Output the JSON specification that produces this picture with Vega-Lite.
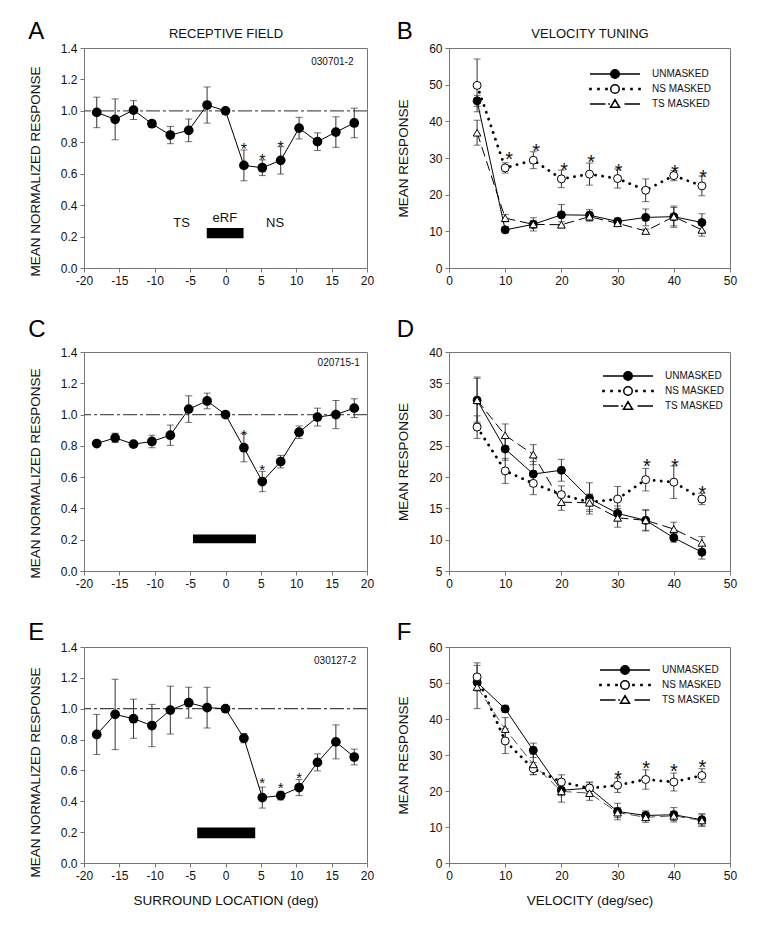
{
  "$schema": "https://vega.github.io/schema/vega-lite/v6.json",
  "padding": {"left": 27, "top": 19, "right": 5, "bottom": 5},
  "background": "white",
  "config": {
    "font": "Liberation Sans",
    "view": {"stroke": "#777", "strokeWidth": 1},
    "axis": {"grid": false, "domainColor": "#777", "tickColor": "#777", "tickSize": 4, "labelFontSize": 12, "labelColor": "#111", "titleFontSize": 13.5, "titleFontWeight": "normal", "titleColor": "#111", "labelPadding": 3, "labelOverlap": false, "labelFlush": false},
    "axisY": {"titlePadding": 18},
    "axisX": {"titlePadding": 12},
    "title": {"fontSize": 24, "fontWeight": "normal", "anchor": "start", "frame": "bounds", "baseline": "alphabetic", "color": "#000"},
    "text": {"color": "#111"},
    "legend": {"title": null, "orient": "none", "labelFontSize": 10, "labelOffset": 31, "symbolSize": 100, "rowPadding": -1, "padding": 0, "labelColor": "#111", "symbolOpacity": 1}
  },
  "resolve": {"scale": {"shape": "independent", "fill": "independent"}, "legend": {"shape": "independent", "fill": "independent"}},
  "datasets": {
    "A": [
      {"x": -18.2, "y": 0.99, "err": 0.097}, {"x": -15.6, "y": 0.946, "err": 0.13}, {"x": -13, "y": 1.005, "err": 0.06},
      {"x": -10.4, "y": 0.918, "err": 0.02}, {"x": -7.8, "y": 0.846, "err": 0.055}, {"x": -5.2, "y": 0.876, "err": 0.072},
      {"x": -2.6, "y": 1.037, "err": 0.115}, {"x": 0, "y": 1.0, "err": 0}, {"x": 2.6, "y": 0.653, "err": 0.098},
      {"x": 5.2, "y": 0.638, "err": 0.05}, {"x": 7.8, "y": 0.685, "err": 0.087}, {"x": 10.4, "y": 0.89, "err": 0.069},
      {"x": 13, "y": 0.804, "err": 0.056}, {"x": 15.6, "y": 0.865, "err": 0.097}, {"x": 18.2, "y": 0.923, "err": 0.094}
    ],
    "A_star": [{"x": 2.6, "y": 0.81}, {"x": 5.2, "y": 0.74}, {"x": 7.8, "y": 0.82}],
    "A_note": [{"x": -6.2, "y": 0.286, "label": "TS"}, {"x": -0.1, "y": 0.318, "label": "eRF"}, {"x": 7.0, "y": 0.286, "label": "NS"}],
    "A_id": [{"x": 15.1, "y": 1.311, "label": "030701-2"}],
    "A_bar": [{"x1": -2.65, "x2": 2.55, "y1": 0.19, "y2": 0.255}],
    "C": [
      {"x": -18.2, "y": 0.815, "err": 0.01}, {"x": -15.6, "y": 0.851, "err": 0.03}, {"x": -13, "y": 0.811, "err": 0.01},
      {"x": -10.4, "y": 0.828, "err": 0.04}, {"x": -7.8, "y": 0.868, "err": 0.065}, {"x": -5.2, "y": 1.035, "err": 0.085},
      {"x": -2.6, "y": 1.087, "err": 0.05}, {"x": 0, "y": 1.0, "err": 0}, {"x": 2.6, "y": 0.788, "err": 0.09},
      {"x": 5.2, "y": 0.572, "err": 0.065}, {"x": 7.8, "y": 0.699, "err": 0.04}, {"x": 10.4, "y": 0.887, "err": 0.04},
      {"x": 13, "y": 0.984, "err": 0.057}, {"x": 15.6, "y": 1.0, "err": 0.09}, {"x": 18.2, "y": 1.041, "err": 0.06}
    ],
    "C_star": [{"x": 2.6, "y": 0.925}, {"x": 5.2, "y": 0.703}],
    "C_id": [{"x": 16.0, "y": 1.332, "label": "020715-1"}],
    "C_bar": [{"x1": -4.6, "x2": 4.3, "y1": 0.177, "y2": 0.234}],
    "E": [
      {"x": -18.2, "y": 0.833, "err": 0.13}, {"x": -15.6, "y": 0.963, "err": 0.228}, {"x": -13, "y": 0.935, "err": 0.127},
      {"x": -10.4, "y": 0.891, "err": 0.137}, {"x": -7.8, "y": 0.991, "err": 0.155}, {"x": -5.2, "y": 1.039, "err": 0.1},
      {"x": -2.6, "y": 1.007, "err": 0.132}, {"x": 0, "y": 1.0, "err": 0}, {"x": 2.6, "y": 0.809, "err": 0.03},
      {"x": 5.2, "y": 0.424, "err": 0.068}, {"x": 7.8, "y": 0.437, "err": 0.028}, {"x": 10.4, "y": 0.489, "err": 0.052},
      {"x": 13, "y": 0.652, "err": 0.055}, {"x": 15.6, "y": 0.785, "err": 0.11}, {"x": 18.2, "y": 0.687, "err": 0.051}
    ],
    "E_star": [{"x": 5.2, "y": 0.576}, {"x": 7.8, "y": 0.543}, {"x": 10.4, "y": 0.609}],
    "E_id": [{"x": 15.5, "y": 1.307, "label": "030127-2"}],
    "E_bar": [{"x1": -4.0, "x2": 4.2, "y1": 0.16, "y2": 0.23}],
    "B": [
      {"series": "UNMASKED", "x": 5, "y": 45.6, "err": 1.5}, {"series": "UNMASKED", "x": 10, "y": 10.4, "err": 0.8},
      {"series": "UNMASKED", "x": 15, "y": 11.9, "err": 1.8}, {"series": "UNMASKED", "x": 20, "y": 14.5, "err": 2.8},
      {"series": "UNMASKED", "x": 25, "y": 14.4, "err": 1.5}, {"series": "UNMASKED", "x": 30, "y": 12.7, "err": 0.9},
      {"series": "UNMASKED", "x": 35, "y": 13.8, "err": 2.3}, {"series": "UNMASKED", "x": 40, "y": 14.0, "err": 2.9},
      {"series": "UNMASKED", "x": 45, "y": 12.4, "err": 2.4},
      {"series": "NS MASKED", "x": 5, "y": 49.8, "err": 7.2}, {"series": "NS MASKED", "x": 10, "y": 27.3, "err": 1.4},
      {"series": "NS MASKED", "x": 15, "y": 29.4, "err": 2.3}, {"series": "NS MASKED", "x": 20, "y": 24.3, "err": 2.4},
      {"series": "NS MASKED", "x": 25, "y": 25.6, "err": 3.0}, {"series": "NS MASKED", "x": 30, "y": 24.4, "err": 2.6},
      {"series": "NS MASKED", "x": 35, "y": 21.2, "err": 3.1}, {"series": "NS MASKED", "x": 40, "y": 25.2, "err": 1.4},
      {"series": "NS MASKED", "x": 45, "y": 22.4, "err": 2.7},
      {"series": "TS MASKED", "x": 5, "y": 36.9, "err": 3.4}, {"series": "TS MASKED", "x": 10, "y": 13.6, "err": 1.0},
      {"series": "TS MASKED", "x": 15, "y": 11.9, "err": 1.0}, {"series": "TS MASKED", "x": 20, "y": 11.8, "err": 0.8},
      {"series": "TS MASKED", "x": 25, "y": 14.0, "err": 1.2}, {"series": "TS MASKED", "x": 30, "y": 12.2, "err": 0.6},
      {"series": "TS MASKED", "x": 35, "y": 10.1, "err": 0.5}, {"series": "TS MASKED", "x": 40, "y": 14.0, "err": 2.5},
      {"series": "TS MASKED", "x": 45, "y": 10.4, "err": 1.7}
    ],
    "B_star": [{"x": 10.7, "y": 32.4}, {"x": 15.5, "y": 34.6}, {"x": 20.5, "y": 29.4}, {"x": 25.3, "y": 31.7}, {"x": 30.2, "y": 29.1}, {"x": 40.2, "y": 28.8}, {"x": 45.2, "y": 27.6}],
    "D": [
      {"series": "UNMASKED", "x": 5, "y": 32.3, "err": 3.7}, {"series": "UNMASKED", "x": 10, "y": 24.5, "err": 1.8},
      {"series": "UNMASKED", "x": 15, "y": 20.5, "err": 2.0}, {"series": "UNMASKED", "x": 20, "y": 21.1, "err": 1.75},
      {"series": "UNMASKED", "x": 25, "y": 16.6, "err": 2.5}, {"series": "UNMASKED", "x": 30, "y": 14.2, "err": 1.2},
      {"series": "UNMASKED", "x": 35, "y": 13.1, "err": 1.6}, {"series": "UNMASKED", "x": 40, "y": 10.3, "err": 0.7},
      {"series": "UNMASKED", "x": 45, "y": 8.0, "err": 1.1},
      {"series": "NS MASKED", "x": 5, "y": 28.0, "err": 1.8}, {"series": "NS MASKED", "x": 10, "y": 21.0, "err": 2.0},
      {"series": "NS MASKED", "x": 15, "y": 19.0, "err": 1.8}, {"series": "NS MASKED", "x": 20, "y": 17.2, "err": 1.4},
      {"series": "NS MASKED", "x": 25, "y": 16.0, "err": 1.2}, {"series": "NS MASKED", "x": 30, "y": 16.5, "err": 2.0},
      {"series": "NS MASKED", "x": 35, "y": 19.6, "err": 1.8}, {"series": "NS MASKED", "x": 40, "y": 19.2, "err": 2.6},
      {"series": "NS MASKED", "x": 45, "y": 16.5, "err": 0.9},
      {"series": "TS MASKED", "x": 5, "y": 32.3, "err": 3.5}, {"series": "TS MASKED", "x": 10, "y": 26.7, "err": 1.8},
      {"series": "TS MASKED", "x": 15, "y": 23.6, "err": 1.6}, {"series": "TS MASKED", "x": 20, "y": 16.0, "err": 1.3},
      {"series": "TS MASKED", "x": 25, "y": 15.9, "err": 1.4}, {"series": "TS MASKED", "x": 30, "y": 13.5, "err": 1.5},
      {"series": "TS MASKED", "x": 35, "y": 13.1, "err": 1.7}, {"series": "TS MASKED", "x": 40, "y": 11.7, "err": 1.1},
      {"series": "TS MASKED", "x": 45, "y": 9.5, "err": 1.0}
    ],
    "D_star": [{"x": 35.2, "y": 23.3}, {"x": 40.2, "y": 23.4}, {"x": 45.1, "y": 19.0}],
    "F": [
      {"series": "UNMASKED", "x": 5, "y": 50.2, "err": 2.0}, {"series": "UNMASKED", "x": 10, "y": 42.8, "err": 1.0},
      {"series": "UNMASKED", "x": 15, "y": 31.3, "err": 2.0}, {"series": "UNMASKED", "x": 20, "y": 20.2, "err": 1.5},
      {"series": "UNMASKED", "x": 25, "y": 20.8, "err": 1.5}, {"series": "UNMASKED", "x": 30, "y": 14.3, "err": 2.3},
      {"series": "UNMASKED", "x": 35, "y": 13.2, "err": 1.3}, {"series": "UNMASKED", "x": 40, "y": 13.4, "err": 2.0},
      {"series": "UNMASKED", "x": 45, "y": 12.0, "err": 1.7},
      {"series": "NS MASKED", "x": 5, "y": 51.7, "err": 3.9}, {"series": "NS MASKED", "x": 10, "y": 33.9, "err": 3.5},
      {"series": "NS MASKED", "x": 15, "y": 26.2, "err": 1.7}, {"series": "NS MASKED", "x": 20, "y": 22.5, "err": 2.0},
      {"series": "NS MASKED", "x": 25, "y": 20.8, "err": 1.7}, {"series": "NS MASKED", "x": 30, "y": 21.6, "err": 2.0},
      {"series": "NS MASKED", "x": 35, "y": 23.2, "err": 2.7}, {"series": "NS MASKED", "x": 40, "y": 22.5, "err": 2.5},
      {"series": "NS MASKED", "x": 45, "y": 24.3, "err": 1.9},
      {"series": "TS MASKED", "x": 5, "y": 48.9, "err": 6.0}, {"series": "TS MASKED", "x": 10, "y": 37.2, "err": 3.2},
      {"series": "TS MASKED", "x": 15, "y": 27.4, "err": 2.8}, {"series": "TS MASKED", "x": 20, "y": 19.9, "err": 3.0},
      {"series": "TS MASKED", "x": 25, "y": 19.4, "err": 2.0}, {"series": "TS MASKED", "x": 30, "y": 14.0, "err": 1.4},
      {"series": "TS MASKED", "x": 35, "y": 12.7, "err": 1.4}, {"series": "TS MASKED", "x": 40, "y": 13.1, "err": 1.3},
      {"series": "TS MASKED", "x": 45, "y": 11.8, "err": 1.6}
    ],
    "F_star": [{"x": 30.1, "y": 26.4}, {"x": 35.1, "y": 29.3}, {"x": 40.0, "y": 28.3}, {"x": 45.1, "y": 29.4}]
  },
  "columns": 2,
  "spacing": {"row": 30, "column": 21},
  "concat": [
    {
      "width": 283, "height": 220,
      "title": {"text": "A", "offset": -17},
      "resolve": {"axis": {"x": "independent"}},
      "layer": [
        {
          "layer": [
            {"data": {"values": [{}]}, "mark": {"type": "rule", "color": "#555", "strokeWidth": 1.2, "strokeDash": [14, 3, 3, 3]},
             "encoding": {"y": {"datum": 1, "type": "quantitative", "scale": {"domain": [0, 1.4]}, "title": "MEAN NORMALIZED RESPONSE", "axis": {"values": [0, 0.2, 0.4, 0.6, 0.8, 1.0, 1.2, 1.4], "labelOverlap": false, "format": ".1f", "titleY": 123}}}},
            {"data": {"name": "A_bar"}, "mark": {"type": "rect", "color": "black"},
             "encoding": {"x": {"field": "x1", "type": "quantitative", "scale": {"domain": [-20, 20]}, "title": null, "axis": {"values": [-20, -15, -10, -5, 0, 5, 10, 15, 20], "labelOverlap": false, "labelExpr": "datum.value < 0 ? '-' + abs(datum.value) : '' + datum.value"}}, "x2": {"field": "x2"},
                          "y": {"field": "y1", "type": "quantitative", "scale": {"domain": [0, 1.4]}, "title": "MEAN NORMALIZED RESPONSE", "axis": {"values": [0, 0.2, 0.4, 0.6, 0.8, 1.0, 1.2, 1.4], "labelOverlap": false, "format": ".1f", "titleY": 123}}, "y2": {"field": "y2"}}},
            {"data": {"name": "A_note"}, "mark": {"type": "text", "fontSize": 13, "baseline": "middle", "align": "center"},
             "encoding": {"x": {"field": "x", "type": "quantitative", "scale": {"domain": [-20, 20]}, "title": null, "axis": {"values": [-20, -15, -10, -5, 0, 5, 10, 15, 20], "labelOverlap": false, "labelExpr": "datum.value < 0 ? '-' + abs(datum.value) : '' + datum.value"}},
                          "y": {"field": "y", "type": "quantitative", "scale": {"domain": [0, 1.4]}, "title": "MEAN NORMALIZED RESPONSE", "axis": {"values": [0, 0.2, 0.4, 0.6, 0.8, 1.0, 1.2, 1.4], "labelOverlap": false, "format": ".1f", "titleY": 123}},
                          "text": {"field": "label"}}},
            {"data": {"name": "A"}, "mark": {"type": "errorbar", "ticks": {"size": 7}, "color": "#333", "thickness": 1},
             "encoding": {"x": {"field": "x", "type": "quantitative", "scale": {"domain": [-20, 20]}, "title": null, "axis": {"values": [-20, -15, -10, -5, 0, 5, 10, 15, 20], "labelOverlap": false, "labelExpr": "datum.value < 0 ? '-' + abs(datum.value) : '' + datum.value"}},
                          "y": {"field": "y", "type": "quantitative", "scale": {"domain": [0, 1.4]}, "title": "MEAN NORMALIZED RESPONSE", "axis": {"values": [0, 0.2, 0.4, 0.6, 0.8, 1.0, 1.2, 1.4], "labelOverlap": false, "format": ".1f", "titleY": 123}},
                          "yError": {"field": "err"}}},
            {"data": {"name": "A"}, "mark": {"type": "line", "color": "black", "strokeWidth": 1},
             "encoding": {"x": {"field": "x", "type": "quantitative", "scale": {"domain": [-20, 20]}, "title": null, "axis": {"values": [-20, -15, -10, -5, 0, 5, 10, 15, 20], "labelOverlap": false, "labelExpr": "datum.value < 0 ? '-' + abs(datum.value) : '' + datum.value"}},
                          "y": {"field": "y", "type": "quantitative", "scale": {"domain": [0, 1.4]}, "title": "MEAN NORMALIZED RESPONSE", "axis": {"values": [0, 0.2, 0.4, 0.6, 0.8, 1.0, 1.2, 1.4], "labelOverlap": false, "format": ".1f", "titleY": 123}}}},
            {"data": {"name": "A"}, "mark": {"type": "point", "shape": "circle", "filled": true, "color": "black", "size": 95, "opacity": 1},
             "encoding": {"x": {"field": "x", "type": "quantitative", "scale": {"domain": [-20, 20]}, "title": null, "axis": {"values": [-20, -15, -10, -5, 0, 5, 10, 15, 20], "labelOverlap": false, "labelExpr": "datum.value < 0 ? '-' + abs(datum.value) : '' + datum.value"}},
                          "y": {"field": "y", "type": "quantitative", "scale": {"domain": [0, 1.4]}, "title": "MEAN NORMALIZED RESPONSE", "axis": {"values": [0, 0.2, 0.4, 0.6, 0.8, 1.0, 1.2, 1.4], "labelOverlap": false, "format": ".1f", "titleY": 123}}}},
            {"data": {"name": "A_star"}, "mark": {"type": "text", "text": "*", "fontSize": 16, "dy": 9},
             "encoding": {"x": {"field": "x", "type": "quantitative", "scale": {"domain": [-20, 20]}, "title": null, "axis": {"values": [-20, -15, -10, -5, 0, 5, 10, 15, 20], "labelOverlap": false, "labelExpr": "datum.value < 0 ? '-' + abs(datum.value) : '' + datum.value"}},
                          "y": {"field": "y", "type": "quantitative", "scale": {"domain": [0, 1.4]}, "title": "MEAN NORMALIZED RESPONSE", "axis": {"values": [0, 0.2, 0.4, 0.6, 0.8, 1.0, 1.2, 1.4], "labelOverlap": false, "format": ".1f", "titleY": 123}}}}
          ]
        },
        {"data": {"name": "A_id"}, "mark": {"type": "text", "fontSize": 10, "baseline": "middle", "align": "center"},
         "encoding": {"x": {"field": "x", "type": "quantitative", "scale": {"domain": [-20, 20]}, "title": "RECEPTIVE FIELD",
                            "axis": {"orient": "top", "labels": false, "ticks": false, "domain": false, "titlePadding": 8, "titleFontSize": 13}},
                      "y": {"field": "y", "type": "quantitative", "scale": {"domain": [0, 1.4]}, "title": "MEAN NORMALIZED RESPONSE", "axis": {"values": [0, 0.2, 0.4, 0.6, 0.8, 1.0, 1.2, 1.4], "labelOverlap": false, "format": ".1f", "titleY": 123}},
                      "text": {"field": "label"}}}
      ]
    },
    {
      "width": 281, "height": 220,
      "title": {"text": "B", "offset": -17},
      "resolve": {"axis": {"x": "independent"}},
      "layer": [
        {
          "data": {"name": "B"},
          "layer": [
            {"mark": {"type": "errorbar", "ticks": {"size": 7}, "color": "#333", "thickness": 1},
             "encoding": {"x": {"field": "x", "type": "quantitative", "scale": {"domain": [0, 50]}, "title": null, "axis": {"values": [0, 10, 20, 30, 40, 50], "labelOverlap": false}},
                          "y": {"field": "y", "type": "quantitative", "scale": {"domain": [0, 60]}, "title": "MEAN RESPONSE", "axis": {"values": [0, 10, 20, 30, 40, 50, 60], "labelOverlap": false}},
                          "yError": {"field": "err"}}},
            {"transform": [{"filter": "datum.series == 'UNMASKED'"}], "mark": {"type": "line", "color": "black", "strokeWidth": 1},
             "encoding": {"x": {"field": "x", "type": "quantitative", "scale": {"domain": [0, 50]}, "title": null, "axis": {"values": [0, 10, 20, 30, 40, 50], "labelOverlap": false}},
                          "y": {"field": "y", "type": "quantitative", "scale": {"domain": [0, 60]}, "title": "MEAN RESPONSE", "axis": {"values": [0, 10, 20, 30, 40, 50, 60], "labelOverlap": false}}}},
            {"transform": [{"filter": "datum.series == 'NS MASKED'"}], "mark": {"type": "line", "color": "black", "strokeWidth": 2.8, "strokeDash": [0.1, 7], "strokeCap": "round"},
             "encoding": {"x": {"field": "x", "type": "quantitative", "scale": {"domain": [0, 50]}, "title": null, "axis": {"values": [0, 10, 20, 30, 40, 50], "labelOverlap": false}},
                          "y": {"field": "y", "type": "quantitative", "scale": {"domain": [0, 60]}, "title": "MEAN RESPONSE", "axis": {"values": [0, 10, 20, 30, 40, 50, 60], "labelOverlap": false}}}},
            {"transform": [{"filter": "datum.series == 'TS MASKED'"}], "mark": {"type": "line", "color": "black", "strokeWidth": 1, "strokeDash": [10, 5]},
             "encoding": {"x": {"field": "x", "type": "quantitative", "scale": {"domain": [0, 50]}, "title": null, "axis": {"values": [0, 10, 20, 30, 40, 50], "labelOverlap": false}},
                          "y": {"field": "y", "type": "quantitative", "scale": {"domain": [0, 60]}, "title": "MEAN RESPONSE", "axis": {"values": [0, 10, 20, 30, 40, 50, 60], "labelOverlap": false}}}},
            {"mark": {"type": "point", "filled": true, "opacity": 0, "stroke": "black"},
             "encoding": {"x": {"field": "x", "type": "quantitative", "scale": {"domain": [0, 50]}, "title": null, "axis": {"values": [0, 10, 20, 30, 40, 50], "labelOverlap": false}},
                          "y": {"field": "y", "type": "quantitative", "scale": {"domain": [0, 60]}, "title": "MEAN RESPONSE", "axis": {"values": [0, 10, 20, 30, 40, 50, 60], "labelOverlap": false}},
                          "shape": {"field": "series", "type": "nominal",
                                    "scale": {"domain": ["UNMASKED", "NS MASKED", "TS MASKED"],
                                              "range": ["M-5,0L5,0M0.85,0A0.85,0.85,0,1,1,-0.85,0A0.85,0.85,0,1,1,0.85,0Z",
                                                        "M0.85,0A0.85,0.85,0,1,1,-0.85,0A0.85,0.85,0,1,1,0.85,0ZM1.58,-0.12H1.82V0.12H1.58ZM3.18,-0.12H3.42V0.12H3.18ZM4.78,-0.12H5.02V0.12H4.78ZM-1.82,-0.12H-1.58V0.12H-1.82ZM-3.42,-0.12H-3.18V0.12H-3.42ZM-5.02,-0.12H-4.78V0.12H-5.02Z",
                                                        "M-5,0L-1.9,0M-1.35,0L-1.0,0M0,-0.85L0.9,0.65L-0.9,0.65ZM1.9,0L5,0"]},
                                    "legend": {"legendX": 160, "legendY": 20, "encode": {"symbols": {"update": {"stroke": {"value": "black"}, "strokeWidth": {"value": 1}, "opacity": {"value": 1}}}}}},
                          "fill": {"field": "series", "type": "nominal",
                                   "scale": {"domain": ["UNMASKED", "NS MASKED", "TS MASKED"], "range": ["black", "white", "white"]},
                                   "legend": {"legendX": 160, "legendY": 20, "encode": {"symbols": {"update": {"stroke": {"value": "black"}, "strokeWidth": {"value": 1}, "opacity": {"value": 1}}}}}}}},
            {"transform": [{"filter": "datum.series != 'TS MASKED'"}],
             "mark": {"type": "point", "shape": "circle", "filled": true, "size": 64, "stroke": "black", "strokeWidth": 1, "opacity": 1},
             "encoding": {"x": {"field": "x", "type": "quantitative", "scale": {"domain": [0, 50]}, "title": null, "axis": {"values": [0, 10, 20, 30, 40, 50], "labelOverlap": false}},
                          "y": {"field": "y", "type": "quantitative", "scale": {"domain": [0, 60]}, "title": "MEAN RESPONSE", "axis": {"values": [0, 10, 20, 30, 40, 50, 60], "labelOverlap": false}},
                          "fill": {"field": "series", "type": "nominal",
                                   "scale": {"domain": ["UNMASKED", "NS MASKED", "TS MASKED"], "range": ["black", "white", "white"]}, "legend": null}}},
            {"transform": [{"filter": "datum.series == 'TS MASKED'"}],
             "mark": {"type": "point", "shape": "triangle-up", "filled": true, "fill": "white", "size": 60, "stroke": "black", "strokeWidth": 1, "opacity": 1},
             "encoding": {"x": {"field": "x", "type": "quantitative", "scale": {"domain": [0, 50]}, "title": null, "axis": {"values": [0, 10, 20, 30, 40, 50], "labelOverlap": false}},
                          "y": {"field": "y", "type": "quantitative", "scale": {"domain": [0, 60]}, "title": "MEAN RESPONSE", "axis": {"values": [0, 10, 20, 30, 40, 50, 60], "labelOverlap": false}}}}
          ]
        },
        {"data": {"name": "B_star"}, "mark": {"type": "text", "text": "*", "fontSize": 20, "dy": 11},
         "encoding": {"x": {"field": "x", "type": "quantitative", "scale": {"domain": [0, 50]}, "title": "VELOCITY TUNING",
                            "axis": {"orient": "top", "labels": false, "ticks": false, "domain": false, "titlePadding": 8, "titleFontSize": 13}},
                      "y": {"field": "y", "type": "quantitative", "scale": {"domain": [0, 60]}, "title": "MEAN RESPONSE", "axis": {"values": [0, 10, 20, 30, 40, 50, 60], "labelOverlap": false}}}}
      ]
    },
    {
      "width": 283, "height": 219,
      "title": {"text": "C", "offset": 4},
      "layer": [
        {"data": {"values": [{}]}, "mark": {"type": "rule", "color": "#555", "strokeWidth": 1.2, "strokeDash": [14, 3, 3, 3]},
         "encoding": {"y": {"datum": 1, "type": "quantitative", "scale": {"domain": [0, 1.4]}, "title": "MEAN NORMALIZED RESPONSE", "axis": {"values": [0, 0.2, 0.4, 0.6, 0.8, 1.0, 1.2, 1.4], "labelOverlap": false, "format": ".1f", "titleY": 121}}}},
        {"data": {"name": "C_bar"}, "mark": {"type": "rect", "color": "black"},
         "encoding": {"x": {"field": "x1", "type": "quantitative", "scale": {"domain": [-20, 20]}, "title": null, "axis": {"values": [-20, -15, -10, -5, 0, 5, 10, 15, 20], "labelOverlap": false, "labelExpr": "datum.value < 0 ? '-' + abs(datum.value) : '' + datum.value"}}, "x2": {"field": "x2"},
                      "y": {"field": "y1", "type": "quantitative", "scale": {"domain": [0, 1.4]}, "title": "MEAN NORMALIZED RESPONSE", "axis": {"values": [0, 0.2, 0.4, 0.6, 0.8, 1.0, 1.2, 1.4], "labelOverlap": false, "format": ".1f", "titleY": 121}}, "y2": {"field": "y2"}}},
        {"data": {"name": "C_id"}, "mark": {"type": "text", "fontSize": 10, "baseline": "middle", "align": "center"},
         "encoding": {"x": {"field": "x", "type": "quantitative", "scale": {"domain": [-20, 20]}, "title": null, "axis": {"values": [-20, -15, -10, -5, 0, 5, 10, 15, 20], "labelOverlap": false, "labelExpr": "datum.value < 0 ? '-' + abs(datum.value) : '' + datum.value"}},
                      "y": {"field": "y", "type": "quantitative", "scale": {"domain": [0, 1.4]}, "title": "MEAN NORMALIZED RESPONSE", "axis": {"values": [0, 0.2, 0.4, 0.6, 0.8, 1.0, 1.2, 1.4], "labelOverlap": false, "format": ".1f", "titleY": 121}},
                      "text": {"field": "label"}}},
        {"data": {"name": "C"}, "mark": {"type": "errorbar", "ticks": {"size": 7}, "color": "#333", "thickness": 1},
         "encoding": {"x": {"field": "x", "type": "quantitative", "scale": {"domain": [-20, 20]}, "title": null, "axis": {"values": [-20, -15, -10, -5, 0, 5, 10, 15, 20], "labelOverlap": false, "labelExpr": "datum.value < 0 ? '-' + abs(datum.value) : '' + datum.value"}},
                      "y": {"field": "y", "type": "quantitative", "scale": {"domain": [0, 1.4]}, "title": "MEAN NORMALIZED RESPONSE", "axis": {"values": [0, 0.2, 0.4, 0.6, 0.8, 1.0, 1.2, 1.4], "labelOverlap": false, "format": ".1f", "titleY": 121}},
                      "yError": {"field": "err"}}},
        {"data": {"name": "C"}, "mark": {"type": "line", "color": "black", "strokeWidth": 1},
         "encoding": {"x": {"field": "x", "type": "quantitative", "scale": {"domain": [-20, 20]}, "title": null, "axis": {"values": [-20, -15, -10, -5, 0, 5, 10, 15, 20], "labelOverlap": false, "labelExpr": "datum.value < 0 ? '-' + abs(datum.value) : '' + datum.value"}},
                      "y": {"field": "y", "type": "quantitative", "scale": {"domain": [0, 1.4]}, "title": "MEAN NORMALIZED RESPONSE", "axis": {"values": [0, 0.2, 0.4, 0.6, 0.8, 1.0, 1.2, 1.4], "labelOverlap": false, "format": ".1f", "titleY": 121}}}},
        {"data": {"name": "C"}, "mark": {"type": "point", "shape": "circle", "filled": true, "color": "black", "size": 95, "opacity": 1},
         "encoding": {"x": {"field": "x", "type": "quantitative", "scale": {"domain": [-20, 20]}, "title": null, "axis": {"values": [-20, -15, -10, -5, 0, 5, 10, 15, 20], "labelOverlap": false, "labelExpr": "datum.value < 0 ? '-' + abs(datum.value) : '' + datum.value"}},
                      "y": {"field": "y", "type": "quantitative", "scale": {"domain": [0, 1.4]}, "title": "MEAN NORMALIZED RESPONSE", "axis": {"values": [0, 0.2, 0.4, 0.6, 0.8, 1.0, 1.2, 1.4], "labelOverlap": false, "format": ".1f", "titleY": 121}}}},
        {"data": {"name": "C_star"}, "mark": {"type": "text", "text": "*", "fontSize": 15, "dy": 9},
         "encoding": {"x": {"field": "x", "type": "quantitative", "scale": {"domain": [-20, 20]}, "title": null, "axis": {"values": [-20, -15, -10, -5, 0, 5, 10, 15, 20], "labelOverlap": false, "labelExpr": "datum.value < 0 ? '-' + abs(datum.value) : '' + datum.value"}},
                      "y": {"field": "y", "type": "quantitative", "scale": {"domain": [0, 1.4]}, "title": "MEAN NORMALIZED RESPONSE", "axis": {"values": [0, 0.2, 0.4, 0.6, 0.8, 1.0, 1.2, 1.4], "labelOverlap": false, "format": ".1f", "titleY": 121}}}}
      ]
    },
    {
      "width": 281, "height": 219,
      "title": {"text": "D", "offset": 4},
      "data": {"name": "D"},
      "layer": [
        {"mark": {"type": "errorbar", "ticks": {"size": 7}, "color": "#333", "thickness": 1},
         "encoding": {"x": {"field": "x", "type": "quantitative", "scale": {"domain": [0, 50]}, "title": null, "axis": {"values": [0, 10, 20, 30, 40, 50], "labelOverlap": false}},
                      "y": {"field": "y", "type": "quantitative", "scale": {"domain": [5, 40]}, "title": "MEAN RESPONSE", "axis": {"values": [5, 10, 15, 20, 25, 30, 35, 40], "labelOverlap": false}},
                      "yError": {"field": "err"}}},
        {"transform": [{"filter": "datum.series == 'UNMASKED'"}], "mark": {"type": "line", "color": "black", "strokeWidth": 1},
         "encoding": {"x": {"field": "x", "type": "quantitative", "scale": {"domain": [0, 50]}, "title": null, "axis": {"values": [0, 10, 20, 30, 40, 50], "labelOverlap": false}},
                      "y": {"field": "y", "type": "quantitative", "scale": {"domain": [5, 40]}, "title": "MEAN RESPONSE", "axis": {"values": [5, 10, 15, 20, 25, 30, 35, 40], "labelOverlap": false}}}},
        {"transform": [{"filter": "datum.series == 'NS MASKED'"}], "mark": {"type": "line", "color": "black", "strokeWidth": 2.8, "strokeDash": [0.1, 7], "strokeCap": "round"},
         "encoding": {"x": {"field": "x", "type": "quantitative", "scale": {"domain": [0, 50]}, "title": null, "axis": {"values": [0, 10, 20, 30, 40, 50], "labelOverlap": false}},
                      "y": {"field": "y", "type": "quantitative", "scale": {"domain": [5, 40]}, "title": "MEAN RESPONSE", "axis": {"values": [5, 10, 15, 20, 25, 30, 35, 40], "labelOverlap": false}}}},
        {"transform": [{"filter": "datum.series == 'TS MASKED'"}], "mark": {"type": "line", "color": "black", "strokeWidth": 1, "strokeDash": [10, 5]},
         "encoding": {"x": {"field": "x", "type": "quantitative", "scale": {"domain": [0, 50]}, "title": null, "axis": {"values": [0, 10, 20, 30, 40, 50], "labelOverlap": false}},
                      "y": {"field": "y", "type": "quantitative", "scale": {"domain": [5, 40]}, "title": "MEAN RESPONSE", "axis": {"values": [5, 10, 15, 20, 25, 30, 35, 40], "labelOverlap": false}}}},
        {"mark": {"type": "point", "filled": true, "opacity": 0, "stroke": "black"},
         "encoding": {"x": {"field": "x", "type": "quantitative", "scale": {"domain": [0, 50]}, "title": null, "axis": {"values": [0, 10, 20, 30, 40, 50], "labelOverlap": false}},
                      "y": {"field": "y", "type": "quantitative", "scale": {"domain": [5, 40]}, "title": "MEAN RESPONSE", "axis": {"values": [5, 10, 15, 20, 25, 30, 35, 40], "labelOverlap": false}},
                      "shape": {"field": "series", "type": "nominal",
                                "scale": {"domain": ["UNMASKED", "NS MASKED", "TS MASKED"],
                                          "range": ["M-5,0L5,0M0.85,0A0.85,0.85,0,1,1,-0.85,0A0.85,0.85,0,1,1,0.85,0Z",
                                                    "M0.85,0A0.85,0.85,0,1,1,-0.85,0A0.85,0.85,0,1,1,0.85,0ZM1.58,-0.12H1.82V0.12H1.58ZM3.18,-0.12H3.42V0.12H3.18ZM4.78,-0.12H5.02V0.12H4.78ZM-1.82,-0.12H-1.58V0.12H-1.82ZM-3.42,-0.12H-3.18V0.12H-3.42ZM-5.02,-0.12H-4.78V0.12H-5.02Z",
                                                    "M-5,0L-1.9,0M-1.35,0L-1.0,0M0,-0.85L0.9,0.65L-0.9,0.65ZM1.9,0L5,0"]},
                                "legend": {"legendX": 173, "legendY": 18, "encode": {"symbols": {"update": {"stroke": {"value": "black"}, "strokeWidth": {"value": 1}, "opacity": {"value": 1}}}}}},
                      "fill": {"field": "series", "type": "nominal",
                               "scale": {"domain": ["UNMASKED", "NS MASKED", "TS MASKED"], "range": ["black", "white", "white"]},
                               "legend": {"legendX": 173, "legendY": 18, "encode": {"symbols": {"update": {"stroke": {"value": "black"}, "strokeWidth": {"value": 1}, "opacity": {"value": 1}}}}}}}},
        {"transform": [{"filter": "datum.series != 'TS MASKED'"}],
         "mark": {"type": "point", "shape": "circle", "filled": true, "size": 64, "stroke": "black", "strokeWidth": 1, "opacity": 1},
         "encoding": {"x": {"field": "x", "type": "quantitative", "scale": {"domain": [0, 50]}, "title": null, "axis": {"values": [0, 10, 20, 30, 40, 50], "labelOverlap": false}},
                      "y": {"field": "y", "type": "quantitative", "scale": {"domain": [5, 40]}, "title": "MEAN RESPONSE", "axis": {"values": [5, 10, 15, 20, 25, 30, 35, 40], "labelOverlap": false}},
                      "fill": {"field": "series", "type": "nominal",
                               "scale": {"domain": ["UNMASKED", "NS MASKED", "TS MASKED"], "range": ["black", "white", "white"]}, "legend": null}}},
        {"transform": [{"filter": "datum.series == 'TS MASKED'"}],
         "mark": {"type": "point", "shape": "triangle-up", "filled": true, "fill": "white", "size": 60, "stroke": "black", "strokeWidth": 1, "opacity": 1},
         "encoding": {"x": {"field": "x", "type": "quantitative", "scale": {"domain": [0, 50]}, "title": null, "axis": {"values": [0, 10, 20, 30, 40, 50], "labelOverlap": false}},
                      "y": {"field": "y", "type": "quantitative", "scale": {"domain": [5, 40]}, "title": "MEAN RESPONSE", "axis": {"values": [5, 10, 15, 20, 25, 30, 35, 40], "labelOverlap": false}}}},
        {"data": {"name": "D_star"}, "mark": {"type": "text", "text": "*", "fontSize": 20, "dy": 11},
         "encoding": {"x": {"field": "x", "type": "quantitative", "scale": {"domain": [0, 50]}, "title": null, "axis": {"values": [0, 10, 20, 30, 40, 50], "labelOverlap": false}},
                      "y": {"field": "y", "type": "quantitative", "scale": {"domain": [5, 40]}, "title": "MEAN RESPONSE", "axis": {"values": [5, 10, 15, 20, 25, 30, 35, 40], "labelOverlap": false}}}}
      ]
    },
    {
      "width": 283, "height": 216,
      "title": {"text": "E", "offset": -4},
      "layer": [
        {"data": {"values": [{}]}, "mark": {"type": "rule", "color": "#444", "strokeWidth": 1.2, "strokeDash": [14, 3, 3, 3]},
         "encoding": {"y": {"datum": 1, "type": "quantitative", "scale": {"domain": [0, 1.4]}, "title": "MEAN NORMALIZED RESPONSE", "axis": {"values": [0, 0.2, 0.4, 0.6, 0.8, 1.0, 1.2, 1.4], "labelOverlap": false, "format": ".1f", "titleY": 125}}}},
        {"data": {"name": "E_bar"}, "mark": {"type": "rect", "color": "black"},
         "encoding": {"x": {"field": "x1", "type": "quantitative", "scale": {"domain": [-20, 20]}, "title": "SURROUND LOCATION (deg)", "axis": {"values": [-20, -15, -10, -5, 0, 5, 10, 15, 20], "labelOverlap": false, "labelExpr": "datum.value < 0 ? '-' + abs(datum.value) : '' + datum.value"}}, "x2": {"field": "x2"},
                      "y": {"field": "y1", "type": "quantitative", "scale": {"domain": [0, 1.4]}, "title": "MEAN NORMALIZED RESPONSE", "axis": {"values": [0, 0.2, 0.4, 0.6, 0.8, 1.0, 1.2, 1.4], "labelOverlap": false, "format": ".1f", "titleY": 125}}, "y2": {"field": "y2"}}},
        {"data": {"name": "E_id"}, "mark": {"type": "text", "fontSize": 10, "baseline": "middle", "align": "center"},
         "encoding": {"x": {"field": "x", "type": "quantitative", "scale": {"domain": [-20, 20]}, "title": "SURROUND LOCATION (deg)", "axis": {"values": [-20, -15, -10, -5, 0, 5, 10, 15, 20], "labelOverlap": false, "labelExpr": "datum.value < 0 ? '-' + abs(datum.value) : '' + datum.value"}},
                      "y": {"field": "y", "type": "quantitative", "scale": {"domain": [0, 1.4]}, "title": "MEAN NORMALIZED RESPONSE", "axis": {"values": [0, 0.2, 0.4, 0.6, 0.8, 1.0, 1.2, 1.4], "labelOverlap": false, "format": ".1f", "titleY": 125}},
                      "text": {"field": "label"}}},
        {"data": {"name": "E"}, "mark": {"type": "errorbar", "ticks": {"size": 7}, "color": "#333", "thickness": 1},
         "encoding": {"x": {"field": "x", "type": "quantitative", "scale": {"domain": [-20, 20]}, "title": "SURROUND LOCATION (deg)", "axis": {"values": [-20, -15, -10, -5, 0, 5, 10, 15, 20], "labelOverlap": false, "labelExpr": "datum.value < 0 ? '-' + abs(datum.value) : '' + datum.value"}},
                      "y": {"field": "y", "type": "quantitative", "scale": {"domain": [0, 1.4]}, "title": "MEAN NORMALIZED RESPONSE", "axis": {"values": [0, 0.2, 0.4, 0.6, 0.8, 1.0, 1.2, 1.4], "labelOverlap": false, "format": ".1f", "titleY": 125}},
                      "yError": {"field": "err"}}},
        {"data": {"name": "E"}, "mark": {"type": "line", "color": "black", "strokeWidth": 1},
         "encoding": {"x": {"field": "x", "type": "quantitative", "scale": {"domain": [-20, 20]}, "title": "SURROUND LOCATION (deg)", "axis": {"values": [-20, -15, -10, -5, 0, 5, 10, 15, 20], "labelOverlap": false, "labelExpr": "datum.value < 0 ? '-' + abs(datum.value) : '' + datum.value"}},
                      "y": {"field": "y", "type": "quantitative", "scale": {"domain": [0, 1.4]}, "title": "MEAN NORMALIZED RESPONSE", "axis": {"values": [0, 0.2, 0.4, 0.6, 0.8, 1.0, 1.2, 1.4], "labelOverlap": false, "format": ".1f", "titleY": 125}}}},
        {"data": {"name": "E"}, "mark": {"type": "point", "shape": "circle", "filled": true, "color": "black", "size": 95, "opacity": 1},
         "encoding": {"x": {"field": "x", "type": "quantitative", "scale": {"domain": [-20, 20]}, "title": "SURROUND LOCATION (deg)", "axis": {"values": [-20, -15, -10, -5, 0, 5, 10, 15, 20], "labelOverlap": false, "labelExpr": "datum.value < 0 ? '-' + abs(datum.value) : '' + datum.value"}},
                      "y": {"field": "y", "type": "quantitative", "scale": {"domain": [0, 1.4]}, "title": "MEAN NORMALIZED RESPONSE", "axis": {"values": [0, 0.2, 0.4, 0.6, 0.8, 1.0, 1.2, 1.4], "labelOverlap": false, "format": ".1f", "titleY": 125}}}},
        {"data": {"name": "E_star"}, "mark": {"type": "text", "text": "*", "fontSize": 15, "dy": 9},
         "encoding": {"x": {"field": "x", "type": "quantitative", "scale": {"domain": [-20, 20]}, "title": "SURROUND LOCATION (deg)", "axis": {"values": [-20, -15, -10, -5, 0, 5, 10, 15, 20], "labelOverlap": false, "labelExpr": "datum.value < 0 ? '-' + abs(datum.value) : '' + datum.value"}},
                      "y": {"field": "y", "type": "quantitative", "scale": {"domain": [0, 1.4]}, "title": "MEAN NORMALIZED RESPONSE", "axis": {"values": [0, 0.2, 0.4, 0.6, 0.8, 1.0, 1.2, 1.4], "labelOverlap": false, "format": ".1f", "titleY": 125}}}}
      ]
    },
    {
      "width": 281, "height": 216,
      "title": {"text": "F", "offset": -4},
      "data": {"name": "F"},
      "layer": [
        {"mark": {"type": "errorbar", "ticks": {"size": 7}, "color": "#333", "thickness": 1},
         "encoding": {"x": {"field": "x", "type": "quantitative", "scale": {"domain": [0, 50]}, "title": "VELOCITY (deg/sec)", "axis": {"values": [0, 10, 20, 30, 40, 50], "labelOverlap": false}},
                      "y": {"field": "y", "type": "quantitative", "scale": {"domain": [0, 60]}, "title": "MEAN RESPONSE", "axis": {"values": [0, 10, 20, 30, 40, 50, 60], "labelOverlap": false}},
                      "yError": {"field": "err"}}},
        {"transform": [{"filter": "datum.series == 'UNMASKED'"}], "mark": {"type": "line", "color": "black", "strokeWidth": 1},
         "encoding": {"x": {"field": "x", "type": "quantitative", "scale": {"domain": [0, 50]}, "title": "VELOCITY (deg/sec)", "axis": {"values": [0, 10, 20, 30, 40, 50], "labelOverlap": false}},
                      "y": {"field": "y", "type": "quantitative", "scale": {"domain": [0, 60]}, "title": "MEAN RESPONSE", "axis": {"values": [0, 10, 20, 30, 40, 50, 60], "labelOverlap": false}}}},
        {"transform": [{"filter": "datum.series == 'NS MASKED'"}], "mark": {"type": "line", "color": "black", "strokeWidth": 2.8, "strokeDash": [0.1, 7], "strokeCap": "round"},
         "encoding": {"x": {"field": "x", "type": "quantitative", "scale": {"domain": [0, 50]}, "title": "VELOCITY (deg/sec)", "axis": {"values": [0, 10, 20, 30, 40, 50], "labelOverlap": false}},
                      "y": {"field": "y", "type": "quantitative", "scale": {"domain": [0, 60]}, "title": "MEAN RESPONSE", "axis": {"values": [0, 10, 20, 30, 40, 50, 60], "labelOverlap": false}}}},
        {"transform": [{"filter": "datum.series == 'TS MASKED'"}], "mark": {"type": "line", "color": "#555", "strokeWidth": 1, "strokeDash": [10, 5]},
         "encoding": {"x": {"field": "x", "type": "quantitative", "scale": {"domain": [0, 50]}, "title": "VELOCITY (deg/sec)", "axis": {"values": [0, 10, 20, 30, 40, 50], "labelOverlap": false}},
                      "y": {"field": "y", "type": "quantitative", "scale": {"domain": [0, 60]}, "title": "MEAN RESPONSE", "axis": {"values": [0, 10, 20, 30, 40, 50, 60], "labelOverlap": false}}}},
        {"mark": {"type": "point", "filled": true, "opacity": 0, "stroke": "black"},
         "encoding": {"x": {"field": "x", "type": "quantitative", "scale": {"domain": [0, 50]}, "title": "VELOCITY (deg/sec)", "axis": {"values": [0, 10, 20, 30, 40, 50], "labelOverlap": false}},
                      "y": {"field": "y", "type": "quantitative", "scale": {"domain": [0, 60]}, "title": "MEAN RESPONSE", "axis": {"values": [0, 10, 20, 30, 40, 50, 60], "labelOverlap": false}},
                      "shape": {"field": "series", "type": "nominal",
                                "scale": {"domain": ["UNMASKED", "NS MASKED", "TS MASKED"],
                                          "range": ["M-5,0L5,0M0.85,0A0.85,0.85,0,1,1,-0.85,0A0.85,0.85,0,1,1,0.85,0Z",
                                                    "M0.85,0A0.85,0.85,0,1,1,-0.85,0A0.85,0.85,0,1,1,0.85,0ZM1.58,-0.12H1.82V0.12H1.58ZM3.18,-0.12H3.42V0.12H3.18ZM4.78,-0.12H5.02V0.12H4.78ZM-1.82,-0.12H-1.58V0.12H-1.82ZM-3.42,-0.12H-3.18V0.12H-3.42ZM-5.02,-0.12H-4.78V0.12H-5.02Z",
                                                    "M-5,0L-1.9,0M-1.35,0L-1.0,0M0,-0.85L0.9,0.65L-0.9,0.65ZM1.9,0L5,0"]},
                                "legend": {"legendX": 170, "legendY": 17, "encode": {"symbols": {"update": {"stroke": {"value": "black"}, "strokeWidth": {"value": 1}, "opacity": {"value": 1}}}}}},
                      "fill": {"field": "series", "type": "nominal",
                               "scale": {"domain": ["UNMASKED", "NS MASKED", "TS MASKED"], "range": ["black", "white", "white"]},
                               "legend": {"legendX": 170, "legendY": 17, "encode": {"symbols": {"update": {"stroke": {"value": "black"}, "strokeWidth": {"value": 1}, "opacity": {"value": 1}}}}}}}},
        {"transform": [{"filter": "datum.series != 'TS MASKED'"}],
         "mark": {"type": "point", "shape": "circle", "filled": true, "size": 64, "stroke": "black", "strokeWidth": 1, "opacity": 1},
         "encoding": {"x": {"field": "x", "type": "quantitative", "scale": {"domain": [0, 50]}, "title": "VELOCITY (deg/sec)", "axis": {"values": [0, 10, 20, 30, 40, 50], "labelOverlap": false}},
                      "y": {"field": "y", "type": "quantitative", "scale": {"domain": [0, 60]}, "title": "MEAN RESPONSE", "axis": {"values": [0, 10, 20, 30, 40, 50, 60], "labelOverlap": false}},
                      "fill": {"field": "series", "type": "nominal",
                               "scale": {"domain": ["UNMASKED", "NS MASKED", "TS MASKED"], "range": ["black", "white", "white"]}, "legend": null}}},
        {"transform": [{"filter": "datum.series == 'TS MASKED'"}],
         "mark": {"type": "point", "shape": "triangle-up", "filled": true, "fill": "white", "size": 60, "stroke": "black", "strokeWidth": 1, "opacity": 1},
         "encoding": {"x": {"field": "x", "type": "quantitative", "scale": {"domain": [0, 50]}, "title": "VELOCITY (deg/sec)", "axis": {"values": [0, 10, 20, 30, 40, 50], "labelOverlap": false}},
                      "y": {"field": "y", "type": "quantitative", "scale": {"domain": [0, 60]}, "title": "MEAN RESPONSE", "axis": {"values": [0, 10, 20, 30, 40, 50, 60], "labelOverlap": false}}}},
        {"data": {"name": "F_star"}, "mark": {"type": "text", "text": "*", "fontSize": 20, "dy": 11},
         "encoding": {"x": {"field": "x", "type": "quantitative", "scale": {"domain": [0, 50]}, "title": "VELOCITY (deg/sec)", "axis": {"values": [0, 10, 20, 30, 40, 50], "labelOverlap": false}},
                      "y": {"field": "y", "type": "quantitative", "scale": {"domain": [0, 60]}, "title": "MEAN RESPONSE", "axis": {"values": [0, 10, 20, 30, 40, 50, 60], "labelOverlap": false}}}}
      ]
    }
  ]
}
